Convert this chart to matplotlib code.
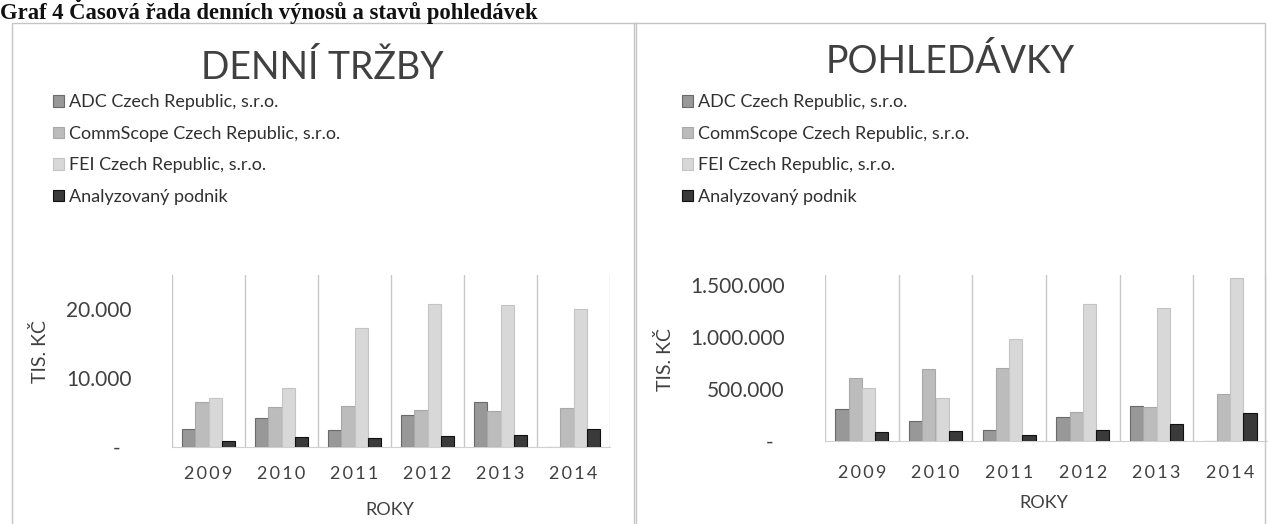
import matplotlib
matplotlib.use('Agg')
import matplotlib.pyplot as plt
from matplotlib.patches import Rectangle
from matplotlib.ticker import FixedLocator, FuncFormatter
import numpy as np

plt.rcParams['font.family'] = ['Lato', 'DejaVu Sans']

years = ['2009', '2010', '2011', '2012', '2013', '2014']
series_names = ['ADC Czech Republic, s.r.o.', 'CommScope Czech Republic, s.r.o.',
                'FEI Czech Republic, s.r.o.', 'Analyzovaný podnik']

trzby_adc = [2600, 4200, 2500, 4700, 6500, 0]
trzby_commscope = [6600, 5800, 5900, 5400, 5200, 5700]
trzby_fei = [7150, 8600, 17300, 20800, 20700, 20000]
trzby_podnik = [900, 1450, 1300, 1600, 1800, 2600]

pohl_adc = [308000, 192000, 106000, 230000, 337000, 0]
pohl_commscope = [606000, 692000, 700000, 280000, 327000, 452000]
pohl_fei = [510000, 413000, 980000, 1317000, 1280000, 1570000]
pohl_podnik = [87000, 100000, 60000, 106000, 163000, 270000]

colors = ['#989898', '#bcbcbc', '#d8d8d8', '#3a3a3a']
edges = ['#6a6a6a', '#a8a8a8', '#c4c4c4', '#101010']

W, H = 1268, 524
fig = plt.figure(figsize=(W / 100, H / 100), dpi=100)
fig.patch.set_facecolor('white')


def fx(px):
    return px / W


def fy(py):
    return 1 - py / H


def fmt(v, pos):
    if v == 0:
        return '-  '
    return f"{int(round(v)):,}".replace(',', '.')


def draw_panel(rect, data, ylim, yticks, title, title_xy, legend_xy, ylab_xy, xlab_xy, xpad):
    ax = fig.add_axes(rect)
    x = np.arange(len(years))
    bw = 0.18
    handles = []
    for i, (vals, name) in enumerate(zip(data, series_names)):
        b = ax.bar(x + (i - 1.5) * bw, vals, width=bw, color=colors[i],
                   edgecolor=edges[i], linewidth=0.8, label=name, zorder=3)
        handles.append(b)
    ax.set_xlim(-0.5, len(years) - 0.5)
    ax.set_ylim(0, ylim)
    ax.set_xticks(x)
    ax.set_xticklabels(['\u2009'.join(y) for y in years], fontsize=13, color='#404040')
    ax.xaxis.set_minor_locator(FixedLocator(np.arange(-0.5, len(years), 1.0)))
    ax.grid(which='minor', axis='x', color='#c8c8c8', linewidth=1.0, zorder=0)
    ax.yaxis.set_major_locator(FixedLocator(yticks))
    ax.yaxis.set_major_formatter(FuncFormatter(fmt))
    ax.tick_params(axis='y', length=0, pad=29, labelsize=15, labelcolor='#404040')
    ax.tick_params(axis='x', which='both', length=0, pad=xpad)
    for s in ['top', 'right', 'left']:
        ax.spines[s].set_visible(False)
    ax.spines['bottom'].set_color('#d0d0d0')
    fig.text(fx(title_xy[0]), fy(title_xy[1]), title, fontsize=27, color='#404040',
             ha='center', va='center')
    fig.text(fx(ylab_xy[0]), fy(ylab_xy[1]), 'TIS. KČ', fontsize=14, color='#404040',
             rotation=90, ha='center', va='center')
    fig.text(fx(xlab_xy[0]), fy(xlab_xy[1]), 'ROKY', fontsize=13, color='#404040',
             ha='center', va='center')
    fig.legend(handles=handles, labels=series_names, loc='upper left',
               bbox_to_anchor=(fx(legend_xy[0]), fy(legend_xy[1])), frameon=False,
               fontsize=13, handlelength=0.6, handleheight=0.6, handletextpad=0.3,
               labelspacing=0.86, borderaxespad=0, labelcolor='#303030')
    return ax


# Header (cut at top in the original; kept fully visible here)
fig.text(0.0, fy(19), 'Graf 4 Časová řada denních výnosů a stavů pohledávek',
         family='Liberation Serif', fontweight='bold', fontsize=16.3, color='#111111',
         ha='left', va='baseline')

# Panel frames
fig.add_artist(Rectangle((fx(12), fy(530)), fx(636 - 12), (530 - 23) / H,
                         transform=fig.transFigure, fill=False, edgecolor='#c4c4c4', lw=1))
fig.add_artist(Rectangle((fx(634), fy(530)), fx(1265 - 634), (530 - 23) / H,
                         transform=fig.transFigure, fill=False, edgecolor='#c4c4c4', lw=1))

draw_panel([fx(172), fy(447), fx(610 - 172), (447 - 275) / H],
           [trzby_adc, trzby_commscope, trzby_fei, trzby_podnik],
           25000, [0, 10000, 20000], 'DENNÍ TRŽBY', (322, 68), (46, 87),
           (40, 352), (390, 510), 14)

draw_panel([fx(825), fy(441), fx(1267 - 825), (441 - 275) / H],
           [pohl_adc, pohl_commscope, pohl_fei, pohl_podnik],
           1600000, [0, 500000, 1000000, 1500000], 'POHLEDÁVKY', (950, 62), (675, 87),
           (665, 360), (1044, 503), 17)

fig.savefig('out.png', dpi=100, facecolor='white')
